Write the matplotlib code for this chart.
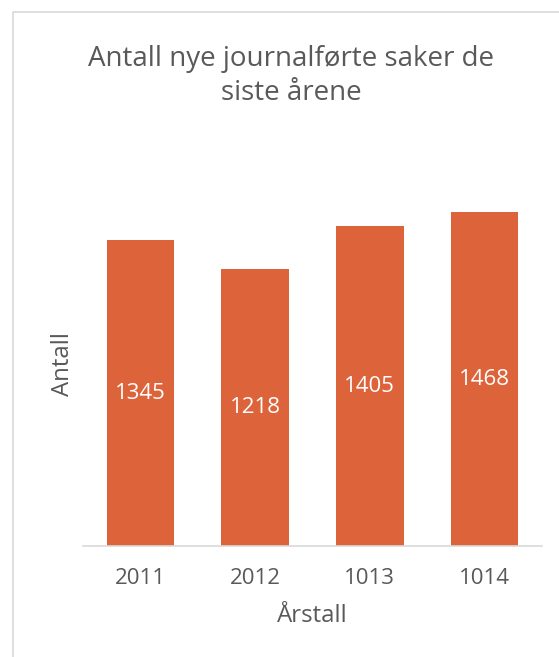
import matplotlib.pyplot as plt
from matplotlib.patches import Rectangle

years = ['2011', '2012', '1013', '1014']
counts = [1345, 1218, 1405, 1468]

plt.rcParams['font.family'] = ['Open Sans', 'DejaVu Sans']
grey = '#595959'
bar_color = '#DD633B'

fig = plt.figure(figsize=(5.59, 6.57), dpi=100)
ax = fig.add_axes([83/559, 1 - 546/657, (542-83)/559, (546-182)/657])

x = range(len(years))
bars = ax.bar(x, counts, width=0.59, color=bar_color, zorder=2)
for b, v in zip(bars, counts):
    ax.text(b.get_x() + b.get_width()/2, v/2, str(v), ha='center', va='center',
            color='white', fontsize=16)

ax.set_xlim(-0.5, len(years) - 0.5)
ax.set_ylim(0, 1600)
ax.set_xticks(list(x))
ax.set_xticklabels(years, fontsize=16, color=grey)
ax.set_yticks([])
ax.tick_params(axis='x', length=0, pad=16)
for s in ['top', 'right', 'left']:
    ax.spines[s].set_visible(False)
ax.spines['bottom'].set_color('#D9D9D9')
ax.spines['bottom'].set_linewidth(1.2)

fig.text(312/559, 1 - 616/657, 'Årstall', ha='center', va='center', fontsize=17.3, color=grey)
fig.text(63/559, 1 - 364/657, 'Antall', ha='center', va='center', rotation=90,
         fontsize=17.3, color=grey)
fig.text(291/559, 1 - 76/657, 'Antall nye journalførte saker de\nsiste årene',
         ha='center', va='center', fontsize=20, color=grey, linespacing=1.3)

# chart frame (only top/left edge visible in crop)
fig.patches.append(Rectangle((13/559, -0.1), 1.2, 1 - 12/657 + 0.1, transform=fig.transFigure,
                             fill=False, edgecolor='#D9D9D9', linewidth=1.2))

fig.savefig('out.png', dpi=100)
